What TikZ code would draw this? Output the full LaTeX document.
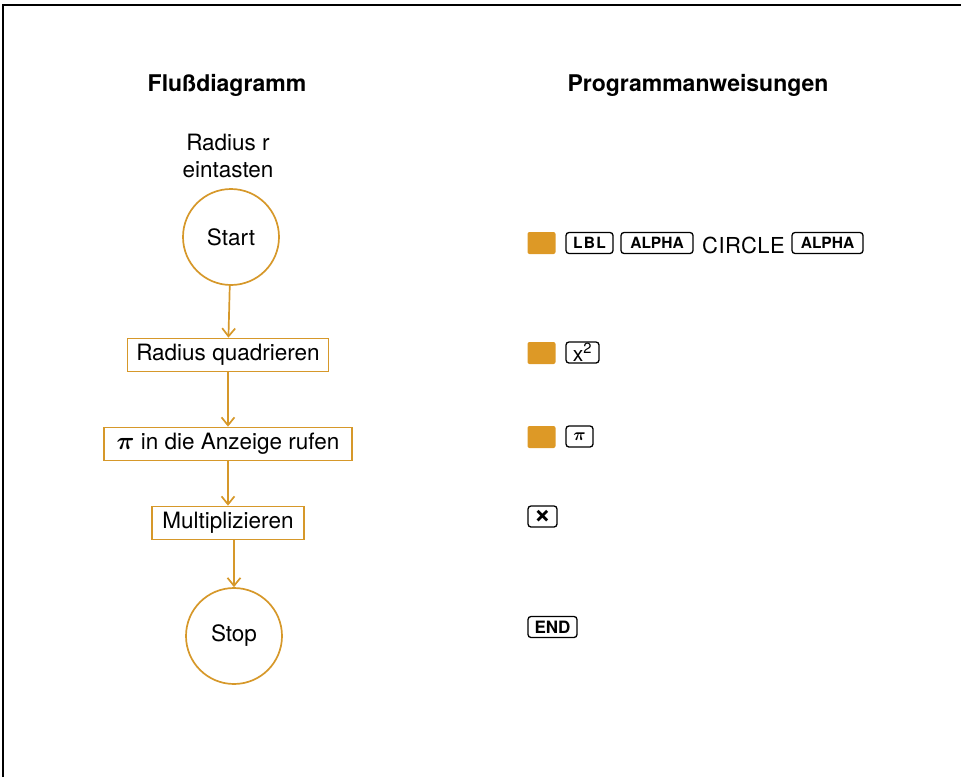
\documentclass[tikz,border=0pt]{standalone}
\usepackage{amsmath}
\usepackage{fontspec}
\setmainfont{TeX Gyre Heros}
\usetikzlibrary{arrows.meta}

\definecolor{flowgold}{RGB}{214,152,42}
\definecolor{shiftgold}{RGB}{221,153,38}

\tikzset{
  flowline/.style={flowgold, line width=1.7pt,
    -{Straight Barb[length=8pt,width=13pt,line width=1.7pt]}},
  terminal/.style={circle, draw=flowgold, line width=1.7pt, minimum size=96pt,
    inner sep=0pt, font=\fontsize{22.5}{26}\selectfont},
  process/.style={rectangle, draw=flowgold, line width=1.7pt, minimum height=33pt,
    inner sep=0pt, font=\fontsize{22.5}{26}\selectfont},
  heading/.style={font=\fontsize{23}{27}\selectfont\bfseries},
  key/.style={draw, rounded corners=3pt, line width=1.3pt, minimum height=21pt,
    inner sep=0pt, font=\fontsize{15.5}{17}\selectfont\bfseries},
  shiftkey/.style={fill=shiftgold, rounded corners=2pt, minimum width=28pt,
    minimum height=22pt, inner sep=0pt},
}

\begin{document}
\begin{tikzpicture}[x=1pt,y=-1pt]
\useasboundingbox (0,0) rectangle (961,777);
% page frame, top and left only
\draw[line width=2pt] (3,777) -- (3,5) -- (961,5);

% column heads
\node[heading] (flowhead) at (227,85) {Flußdiagramm};
\node[heading] (proghead) at (698,85) {Programmanweisungen};

% flow chart
\node[font=\fontsize{22.5}{27}\selectfont, align=center] (input) at (228,156) {Radius r\\eintasten};
\node[terminal] (start) at (231,237) {Start};
\node[process, minimum width=201pt] (square) at (228,355) {Radius quadrieren};
\node[process, minimum width=248pt] (recall) at (228,444) {\scalebox{1.2}{$\boldsymbol{\pi}$} in die Anzeige rufen};
\node[process, minimum width=152pt] (mult) at (228,523) {Multiplizieren};
\node[terminal] (stop) at (234,636) {Stop};

\draw[flowline] (start) -- (square);
\draw[flowline] (square) -- (recall);
\draw[flowline] (recall) -- (mult);
\draw[flowline] (mult.south -| stop) -- (stop);

% key sequence
\node[shiftkey] (shift1) at (541.5,243) {};
\node[key, minimum width=47pt] (lbl) at (589.5,243) {\addfontfeature{LetterSpace=9}LBL};
\node[key, minimum width=72pt] (alpha1) at (657,243) {ALPHA};
\node[font=\fontsize{22}{26}\selectfont\addfontfeature{LetterSpace=2}] (name) at (743.5,245) {CIRCLE};
\node[key, minimum width=71pt] (alpha2) at (827.5,243) {ALPHA};

\node[shiftkey] (shift2) at (541.5,353) {};
\node[key, minimum width=33pt, font=\fontsize{21}{22}\selectfont] (xsq) at (582.5,352.5) {x\textsuperscript{2}};

\node[shiftkey] (shift3) at (541.5,437) {};
\node[key, minimum width=27pt, font=\fontsize{17}{18}\selectfont] (pikey) at (579.5,436.5) {$\boldsymbol{\pi}$};

\node[key, minimum width=29pt] (times) at (542.5,516.5) {\scalebox{1.9}{×}};

\node[key, minimum width=49pt, font=\fontsize{17}{18}\selectfont\bfseries] (endkey) at (552.5,627) {END};
\end{tikzpicture}
\end{document}
